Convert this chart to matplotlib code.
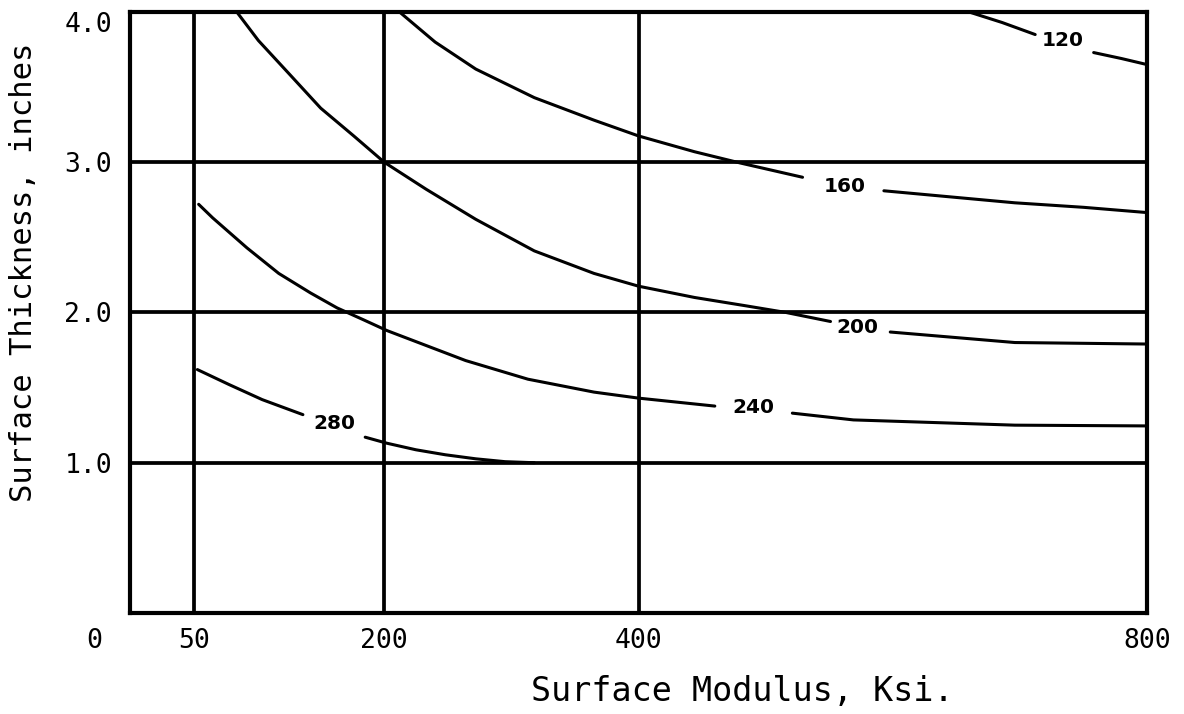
import numpy as np
import matplotlib
matplotlib.use("Agg")
import matplotlib.pyplot as plt

nan = np.nan

# ---- data ----
x_ticks = [50, 200, 400, 800]
x_tick_labels = ["50", "200", "400", "800"]
y_ticks = [1.0, 2.0, 3.0, 4.0]
y_tick_labels = ["1.0", "2.0", "3.0", "4.0"]
v_grid = [50, 200, 400]
h_grid = [1.0, 2.0, 3.0]

c120_x = [660, 686, 712, nan, 758, 780, 800]
c120_y = [4.0, 3.93, 3.85, nan, 3.73, 3.69, 3.65]

c160_x = [212, 240, 272, 318, 365, 400, 444, 480, 529, nan, 593, 696, 750, 800]
c160_y = [4.0, 3.80, 3.62, 3.43, 3.28, 3.175, 3.07, 2.995, 2.90, nan, 2.81, 2.73, 2.70, 2.665]

c200_x = [84, 101, 125, 150, 176, 200, 233, 272, 318, 365, 400, 444, 484, 516, 551, nan, 598, 696, 800]
c200_y = [4.0, 3.81, 3.59, 3.36, 3.175, 3.0, 2.82, 2.62, 2.41, 2.26, 2.175, 2.10, 2.045, 2.0, 1.94, nan, 1.87, 1.80, 1.79]

c240_x = [54, 65, 92, 117, 142, 163, 184, 202, 233, 264, 313, 365, 400, 460, nan, 521, 569, 696, 800]
c240_y = [2.72, 2.63, 2.43, 2.26, 2.13, 2.03, 1.95, 1.88, 1.78, 1.68, 1.556, 1.47, 1.43, 1.377, nan, 1.33, 1.285, 1.25, 1.245]

c280_x = [53, 78, 104, 136, nan, 185, 202, 225, 248, 272, 295, 318]
c280_y = [1.62, 1.52, 1.42, 1.32, nan, 1.17, 1.13, 1.086, 1.053, 1.026, 1.007, 1.0]

curve_labels = ["120", "160", "200", "240", "280"]
label_x = [734, 562, 572, 490, 161]
label_y = [3.81, 2.84, 1.90, 1.37, 1.26]

curves = [(c120_x, c120_y), (c160_x, c160_y), (c200_x, c200_y),
          (c240_x, c240_y), (c280_x, c280_y)]

# ---- figure ----
fig = plt.figure(figsize=(11.84, 7.14), dpi=100)
ax = fig.add_axes([0.1098, 0.1415, 0.859, 0.8417])
ax.set_xlim(0, 800)
ax.set_ylim(0, 4.0)

mono = "DejaVu Sans Mono"

for gx in v_grid:
    ax.axvline(gx, color="black", lw=2.7, zorder=2)
for gy in h_grid:
    ax.axhline(gy, color="black", lw=2.7, zorder=2)

for cx, cy in curves:
    ax.plot(cx, cy, color="black", lw=2.2, solid_capstyle="round",
            solid_joinstyle="round", zorder=3)

for t, lx, ly in zip(curve_labels, label_x, label_y):
    ax.text(lx, ly, t, ha="center", va="center", fontsize=14.5,
            fontweight="bold", family="DejaVu Sans", zorder=4)

for sp in ax.spines.values():
    sp.set_linewidth(3.0)
    sp.set_color("black")

ax.set_xticks(x_ticks)
ax.set_xticklabels(x_tick_labels, family=mono, fontsize=19)
ax.set_yticks(y_ticks)
ax.set_yticklabels(y_tick_labels, family=mono, fontsize=19)
ax.tick_params(axis="x", length=0, pad=11)
ax.tick_params(axis="y", length=0, pad=13)
ax.get_yticklabels()[-1].set_verticalalignment("top")

ax.annotate("0", xy=(-28, 0), xycoords=("data", "axes fraction"),
            xytext=(0, -11), textcoords="offset points",
            ha="center", va="top", family=mono, fontsize=19,
            annotation_clip=False)

fig.text(742 / 1184, 1 - 692 / 714, "Surface Modulus, Ksi.", ha="center",
         va="center", family=mono, fontsize=24)
fig.text(24 / 1184, 1 - 272 / 714, "Surface Thickness, inches", ha="center",
         va="center", rotation=90, family=mono, fontsize=22)

fig.savefig("out.png", dpi=100)
